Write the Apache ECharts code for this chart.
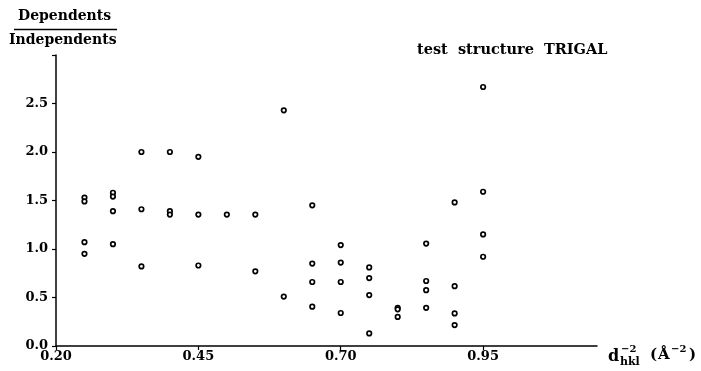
<!DOCTYPE html>
<html lang="en">
<head>
    <meta charset="UTF-8">
    <script src="https://cdn.jsdelivr.net/npm/echarts@6/dist/echarts.min.js"></script>
    <title>test structure TRIGAL</title>
    <style>
        html, body { margin: 0; padding: 0; background: #fff; }
    </style>
</head>
<body>
    <div id="main" style="width:701px;height:371px"></div>
    <script>
        // d^-2 values (columns) and the dependents/independents ratios read at each one
        var dValues = [0.25, 0.30, 0.35, 0.40, 0.45, 0.50, 0.55, 0.60, 0.65, 0.70, 0.75, 0.80, 0.85, 0.90, 0.95];
        var ratios = [
            [1.53, 1.49, 1.07, 0.95],
            [1.58, 1.54, 1.39, 1.05],
            [2.00, 1.41, 0.82],
            [2.00, 1.39, 1.355],
            [1.95, 1.355, 0.83],
            [1.355],
            [1.355, 0.77],
            [2.43, 0.51],
            [1.45, 0.85, 0.66, 0.405],
            [1.04, 0.86, 0.66, 0.34],
            [0.81, 0.70, 0.525, 0.13],
            [0.394, 0.378, 0.30],
            [1.056, 0.67, 0.576, 0.394],
            [1.48, 0.617, 0.336, 0.216],
            [2.67, 1.59, 1.15, 0.92]
        ];
        var xTicks = [0.20, 0.45, 0.70, 0.95];
        var yTicks = [0.0, 0.5, 1.0, 1.5, 2.0, 2.5];

        var points = [];
        for (var i = 0; i < dValues.length; i++) {
            for (var j = 0; j < ratios[i].length; j++) {
                points.push([dValues[i], ratios[i][j]]);
            }
        }

        var font = 'DejaVu Serif';
        var chart = echarts.init(document.getElementById('main'));
        var option = {
            backgroundColor: '#fff',
            animation: false,
            grid: { left: 56, right: 104, top: 55, bottom: 25 },
            xAxis: {
                type: 'value',
                min: 0.20,
                max: 1.15,
                interval: 0.25,
                splitLine: { show: false },
                axisLine: { onZero: false, lineStyle: { color: '#000', width: 1.5 } },
                axisTick: { customValues: xTicks, length: 4, lineStyle: { color: '#000', width: 1.2 } },
                axisLabel: {
                    customValues: xTicks,
                    margin: 4,
                    color: '#000',
                    fontFamily: font,
                    fontWeight: 'bold',
                    fontSize: 13,
                    formatter: function (v) { return v.toFixed(2); }
                }
            },
            yAxis: {
                type: 'value',
                min: 0,
                max: 3.0,
                interval: 0.5,
                splitLine: { show: false },
                axisLine: { onZero: false, lineStyle: { color: '#000', width: 1.5 } },
                axisTick: { length: 4, lineStyle: { color: '#000', width: 1.2 } },
                axisLabel: {
                    customValues: yTicks,
                    margin: 8,
                    color: '#000',
                    fontFamily: font,
                    fontWeight: 'bold',
                    fontSize: 13,
                    formatter: function (v) { return v.toFixed(1); }
                }
            },
            graphic: [
                { type: 'text', left: 18, top: 9, style: { text: 'Dependents', font: 'bold 14px "DejaVu Serif"', fill: '#000' } },
                { type: 'line', shape: { x1: 14, y1: 29.5, x2: 117, y2: 29.5 }, style: { stroke: '#000', lineWidth: 1.5 } },
                { type: 'text', left: 9, top: 33, style: { text: 'Independents', font: 'bold 14px "DejaVu Serif"', fill: '#000' } },
                { type: 'text', left: 417, top: 43, style: { text: 'test  structure  TRIGAL', font: 'bold 14.5px "DejaVu Serif"', fill: '#000' } },
                { type: 'text', left: 608, top: 349, style: { text: 'd', font: 'bold 16px "DejaVu Serif"', fill: '#000' } },
                { type: 'text', left: 621, top: 344, style: { text: '\u22122', font: 'bold 10px "DejaVu Serif"', fill: '#000' } },
                { type: 'text', left: 620, top: 357, style: { text: 'hkl', font: 'bold 11px "DejaVu Serif"', fill: '#000' } },
                { type: 'text', left: 650, top: 348, style: { text: '(', font: 'bold 15px "DejaVu Serif"', fill: '#000' } },
                { type: 'text', left: 658, top: 348, style: { text: '\u00c5', font: 'bold 15px "DejaVu Serif"', fill: '#000' } },
                { type: 'text', left: 671, top: 344, style: { text: '\u22122', font: 'bold 10px "DejaVu Serif"', fill: '#000' } },
                { type: 'text', left: 689, top: 348, style: { text: ')', font: 'bold 15px "DejaVu Serif"', fill: '#000' } }
            ],
            series: [
                {
                    type: 'scatter',
                    symbol: 'circle',
                    symbolSize: 4.5,
                    data: points,
                    itemStyle: { color: '#fff', borderColor: '#000', borderWidth: 1.7, opacity: 1 }
                }
            ]
        };
        chart.setOption(option);
    </script>
</body>
</html>
